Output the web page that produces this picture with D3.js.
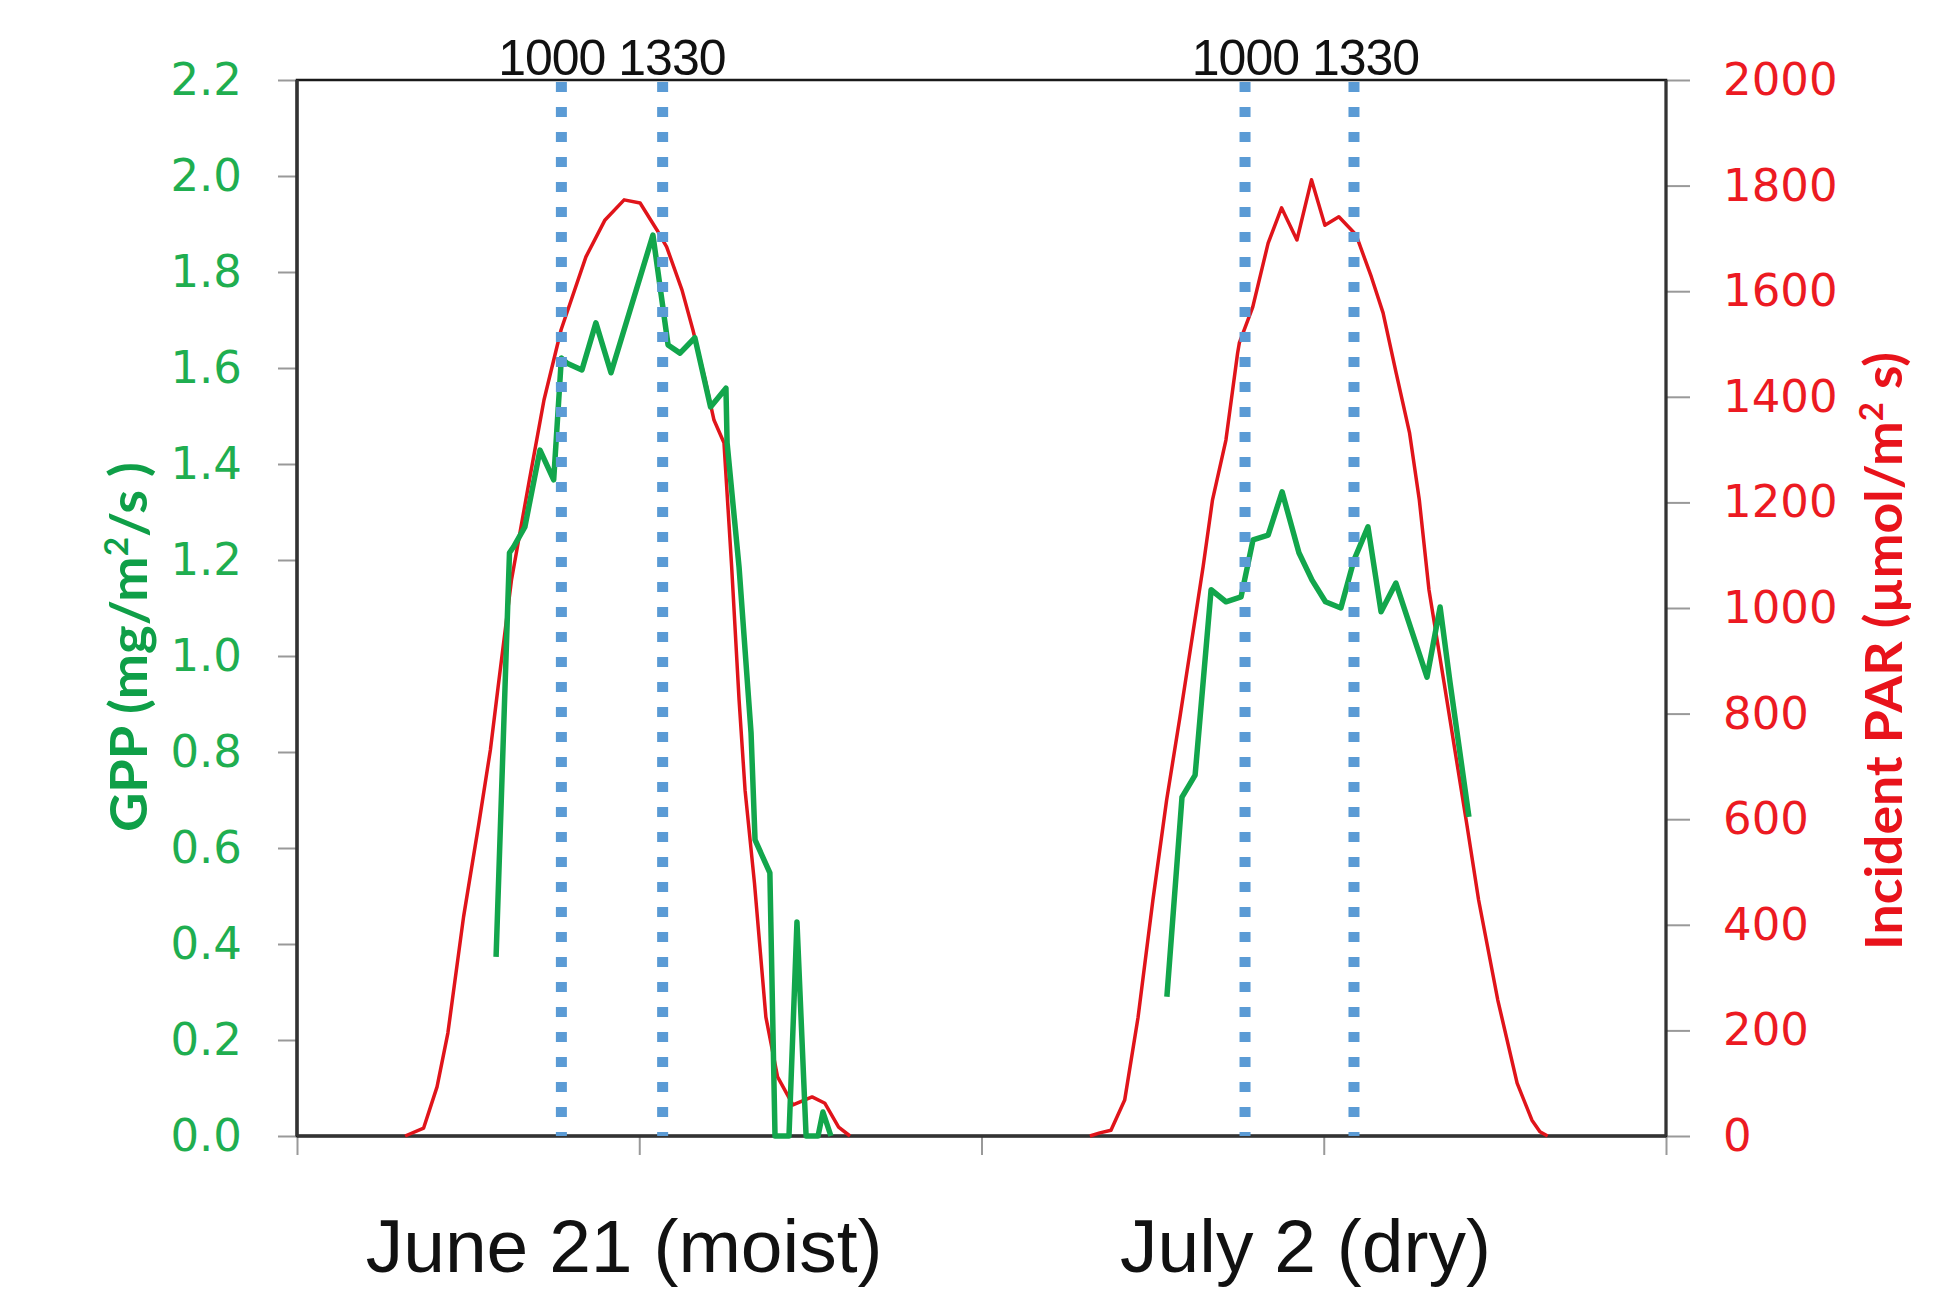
<!DOCTYPE html>
<html lang="en">
<head>
    <meta charset="UTF-8">
    <title>GPP and incident PAR</title>

    <script src="https://d3js.org/d3.v7.min.js"></script>

    <style>
        body { margin: 0; background: #fff; }
        .axis text { font-family: 'DejaVu Sans', sans-serif; font-size: 45px; }
        .axis line { stroke: #999; stroke-width: 2; }
        .axis path { display: none; }
    </style>
</head>
<body>
<script>
    // x values are hours along the axis (0-48 = both days)
    var parJune = [[3.79,0],[4.44,15],[4.91,93],[5.29,195],[5.84,415],[6.38,593],[6.78,731],[7.05,850],
        [7.52,1053],[8.13,1237],[8.66,1394],[9.26,1527],[10.13,1665],[10.80,1735],[11.47,1773],[12.03,1767],
        [12.62,1716],[12.96,1684],[13.50,1602],[13.88,1527],[14.31,1432],[14.62,1356],[14.97,1313],[15.24,1078],
        [15.50,826],[15.71,655],[16.04,479],[16.44,225],[16.85,112],[17.39,59],[18.06,74],[18.51,62],
        [18.99,17],[19.39,0]];

    var gppJune = [[6.98,0.373],[7.45,1.215],[7.59,1.227],[7.99,1.269],[8.52,1.429],[9.00,1.367],[9.27,1.621],
        [9.47,1.610],[9.99,1.596],[10.48,1.694],[11.01,1.590],[12.48,1.877],[13.01,1.648],[13.43,1.631],
        [13.95,1.663],[14.50,1.519],[15.04,1.558],[15.08,1.444],[15.50,1.185],[15.92,0.840],[16.06,0.617],
        [16.58,0.548],[16.76,0],[17.25,0],[17.53,0.446],[17.85,0],[18.27,0],[18.44,0.05],[18.72,0]];

    var parJuly = [[27.80,0],[28.15,6],[28.54,11],[29.02,68],[29.49,225],[30.01,447],[30.49,636],[30.96,794],
        [31.77,1078],[32.10,1205],[32.57,1318],[32.98,1483],[33.04,1502],[33.51,1570],[34.05,1691],[34.52,1758],
        [35.06,1697],[35.57,1811],[36.04,1725],[36.53,1741],[37.13,1707],[37.67,1627],[38.08,1559],[38.54,1445],
        [39.01,1331],[39.35,1205],[39.69,1034],[40.22,858],[41.02,589],[41.43,447],[42.10,258],[42.78,100],
        [43.30,30],[43.58,8],[43.85,0]];

    var gppJuly = [[30.50,0.290],[31.03,0.706],[31.49,0.752],[32.05,1.138],[32.57,1.113],[33.10,1.123],
        [33.52,1.242],[34.05,1.252],[34.54,1.342],[35.13,1.215],[35.59,1.158],[36.06,1.113],[36.60,1.100],
        [37.06,1.200],[37.55,1.269],[38.01,1.092],[38.53,1.152],[39.62,0.956],[40.08,1.102],[40.43,0.944],
        [41.09,0.665]];

    var markerLines = [9.27, 12.82, 33.24, 37.06];
    var markerLabels = [{text: '1000 1330', x: 11.04}, {text: '1000 1330', x: 35.36}];
    var dayLabels = [{text: 'June 21 (moist)', x: 11.47}, {text: 'July 2 (dry)', x: 35.36}];
    var xTicks = [0, 12, 24, 36, 48];
    var gppTicks = [0, 0.2, 0.4, 0.6, 0.8, 1.0, 1.2, 1.4, 1.6, 1.8, 2.0, 2.2];
    var parTicks = [0, 200, 400, 600, 800, 1000, 1200, 1400, 1600, 1800, 2000];

    var width = 1947;
    var height = 1293;
    var plotLeft = 297, plotRight = 1666, plotTop = 80, plotBottom = 1136;

    var green = '#12a64c';
    var red = '#e0141a';

    var svg = d3.select('body')
        .append('svg')
        .attr('width', width)
        .attr('height', height);

    var xscale = d3.scaleLinear()
        .domain([0, 48])
        .range([plotLeft, plotRight]);

    var ygpp = d3.scaleLinear()
        .domain([0, 2.2])
        .range([plotBottom, plotTop]);

    var ypar = d3.scaleLinear()
        .domain([0, 2000])
        .range([plotBottom, plotTop]);

    // axes
    svg.append('g')
        .attr('class', 'axis')
        .attr('transform', 'translate(' + plotLeft + ',0)')
        .call(d3.axisLeft(ygpp).tickValues(gppTicks).tickSize(19).tickPadding(36).tickFormat(d3.format('.1f')))
        .selectAll('text').attr('fill', '#1fae50');

    svg.append('g')
        .attr('class', 'axis')
        .attr('transform', 'translate(' + plotRight + ',0)')
        .call(d3.axisRight(ypar).tickValues(parTicks).tickSize(24).tickPadding(33).tickFormat(d3.format('d')))
        .selectAll('text').attr('fill', '#ec1a22');

    svg.append('g')
        .attr('class', 'axis')
        .attr('transform', 'translate(0,' + plotBottom + ')')
        .call(d3.axisBottom(xscale).tickValues(xTicks).tickSize(19).tickFormat(''));

    // plot frame
    svg.append('rect')
        .attr('x', plotLeft)
        .attr('y', plotTop)
        .attr('width', plotRight - plotLeft)
        .attr('height', plotBottom - plotTop)
        .attr('fill', 'none')
        .attr('stroke', '#1a1a1a')
        .attr('stroke-width', 2.5);

    svg.append('line')
        .attr('x1', plotLeft).attr('x2', plotLeft)
        .attr('y1', plotTop).attr('y2', plotBottom)
        .attr('stroke', '#333').attr('stroke-width', 3.5);

    svg.append('line')
        .attr('x1', plotLeft).attr('x2', plotRight)
        .attr('y1', plotBottom).attr('y2', plotBottom)
        .attr('stroke', '#333').attr('stroke-width', 3.5);

    svg.append('line')
        .attr('x1', plotRight).attr('x2', plotRight)
        .attr('y1', plotTop).attr('y2', plotBottom)
        .attr('stroke', '#333').attr('stroke-width', 3);

    // series
    var parLine = d3.line()
        .x(function (d) { return xscale(d[0]); })
        .y(function (d) { return ypar(d[1]); });

    var gppLine = d3.line()
        .x(function (d) { return xscale(d[0]); })
        .y(function (d) { return ygpp(d[1]); });

    svg.selectAll('.par')
        .data([parJune, parJuly])
        .enter()
        .append('path')
        .attr('class', 'par')
        .attr('d', parLine)
        .attr('fill', 'none')
        .attr('stroke', red)
        .attr('stroke-width', 3.5)
        .attr('stroke-linejoin', 'round');

    svg.selectAll('.gpp')
        .data([gppJune, gppJuly])
        .enter()
        .append('path')
        .attr('class', 'gpp')
        .attr('d', gppLine)
        .attr('fill', 'none')
        .attr('stroke', green)
        .attr('stroke-width', 5.5)
        .attr('stroke-linejoin', 'round');

    // 1000 / 1330 markers
    svg.selectAll('.marker')
        .data(markerLines)
        .enter()
        .append('line')
        .attr('class', 'marker')
        .attr('x1', xscale)
        .attr('x2', xscale)
        .attr('y1', plotTop + 2)
        .attr('y2', plotBottom)
        .attr('stroke', '#5b9bd5')
        .attr('stroke-width', 11)
        .attr('stroke-dasharray', '10 15');

    svg.selectAll('.mlabel')
        .data(markerLabels)
        .enter()
        .append('text')
        .attr('class', 'mlabel')
        .attr('x', function (d) { return xscale(d.x); })
        .attr('y', 75)
        .attr('text-anchor', 'middle')
        .attr('font-family', 'Liberation Sans, Arial, sans-serif')
        .attr('font-size', 50)
        .attr('letter-spacing', -1)
        .attr('fill', '#111')
        .text(function (d) { return d.text; });

    svg.selectAll('.dlabel')
        .data(dayLabels)
        .enter()
        .append('text')
        .attr('class', 'dlabel')
        .attr('x', function (d) { return xscale(d.x); })
        .attr('y', 1272)
        .attr('text-anchor', 'middle')
        .attr('font-family', 'Liberation Sans, Arial, sans-serif')
        .attr('font-size', 75)
        .attr('fill', '#111')
        .text(function (d) { return d.text; });

    // axis titles
    var gppTitle = svg.append('text')
        .attr('transform', 'translate(147,647) rotate(-90)')
        .attr('text-anchor', 'middle')
        .attr('font-family', 'Lato, sans-serif')
        .attr('font-weight', 'bold')
        .attr('font-size', 52)
        .attr('fill', '#0f9f48')
        .attr('textLength', 370)
        .attr('lengthAdjust', 'spacingAndGlyphs');
    gppTitle.append('tspan').text('GPP (mg/m');
    gppTitle.append('tspan').attr('font-size', 32).attr('dy', -19).text('2');
    gppTitle.append('tspan').attr('dy', 19).text('/s )');

    var parTitle = svg.append('text')
        .attr('transform', 'translate(1902,651) rotate(-90)')
        .attr('text-anchor', 'middle')
        .attr('font-family', 'Lato, sans-serif')
        .attr('font-weight', 'bold')
        .attr('font-size', 52)
        .attr('fill', '#e8131b')
        .attr('textLength', 598)
        .attr('lengthAdjust', 'spacingAndGlyphs');
    parTitle.append('tspan').text('Incident PAR (\u00b5mol/m');
    parTitle.append('tspan').attr('font-size', 32).attr('dy', -19).text('2');
    parTitle.append('tspan').attr('dy', 19).text(' s)');
</script>
</body>
</html>
